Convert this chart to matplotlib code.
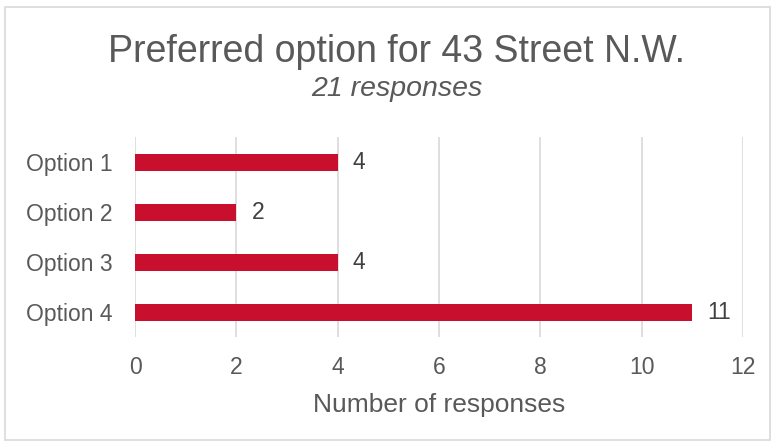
import matplotlib
matplotlib.use("Agg")
import matplotlib.pyplot as plt
from matplotlib.patches import Rectangle

categories = ["Option 1", "Option 2", "Option 3", "Option 4"]
values = [4, 2, 4, 11]
xticks = [0, 2, 4, 6, 8, 10, 12]
title = "Preferred option for 43 Street N.W."
subtitle = "21 responses"
xlabel = "Number of responses"

plt.rcParams['font.family'] = ['Liberation Sans', 'DejaVu Sans']
text_color = "#595959"
bar_color = "#C8102E"
grid_color = "#D9D9D9"

W, H = 775, 444
fig = plt.figure(figsize=(W/100, H/100), dpi=100)
ax = fig.add_axes([135/W, 1-337/H, (743-135)/W, 200/H])

y = list(range(len(categories)))
ax.barh(y, values, height=0.34, color=bar_color, zorder=3)
ax.set_ylim(len(categories)-0.5, -0.5)
ax.set_xlim(0, 12)
ax.set_xticks(xticks)
ax.set_xticklabels([str(t) for t in xticks])
ax.set_yticks(y)
ax.set_yticklabels(categories)
ax.xaxis.grid(True, color=grid_color, linewidth=1.2, zorder=0)
for s in ax.spines.values():
    s.set_visible(False)
ax.tick_params(axis='both', length=0, labelsize=16.5, colors=text_color)
ax.tick_params(axis='x', pad=14)
ax.tick_params(axis='y', pad=16)
for yi, v in zip(y, values):
    ax.text(v + 0.3, yi, str(v), va='center', ha='left', fontsize=16.5, color="#404040")
ax.set_xlabel(xlabel, fontsize=19, color=text_color, labelpad=10)

fig.text(397/W, 1-52/H, title, ha='center', va='center', fontsize=27, color=text_color)
fig.text(397/W, 1-89/H, subtitle, ha='center', va='center', fontsize=20.5, color=text_color, style='italic')

fig.patches.append(Rectangle((5/W, 4/H), 765/W, 433/H, transform=fig.transFigure,
                             fill=False, edgecolor="#D9D9D9", linewidth=1.2))

fig.savefig("out.png", dpi=100)
